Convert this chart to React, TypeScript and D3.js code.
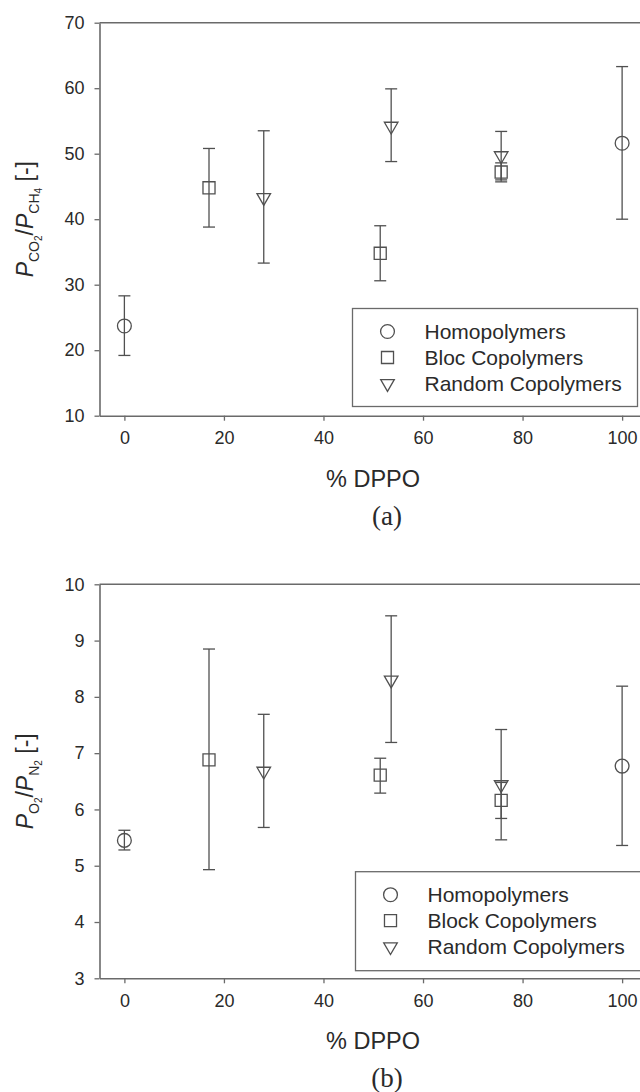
import * as d3 from 'd3';
import { useEffect, useRef } from 'react';

const WIDTH = 640;
const HEIGHT = 1092;
const X_TICKS = [0, 20, 40, 60, 80, 100];

// panel (a): CO2/CH4 selectivity
const A_Y_TICKS = [10, 20, 30, 40, 50, 60, 70];
const A_HOMO_X = [0, 100];
const A_HOMO_Y = [23.7, 51.6];
const A_HOMO_LO = [19.2, 40.0];
const A_HOMO_HI = [28.3, 63.3];
const A_BLOC_X = [17, 51.4, 75.7];
const A_BLOC_Y = [44.8, 34.8, 47.2];
const A_BLOC_LO = [38.8, 30.6, 45.7];
const A_BLOC_HI = [50.8, 39.0, 48.6];
const A_RAND_X = [28, 53.6, 75.7];
const A_RAND_Y = [43.3, 54.2, 49.7];
const A_RAND_LO = [33.3, 48.8, 46.0];
const A_RAND_HI = [53.5, 59.9, 53.4];
const A_LEGEND = ['Homopolymers', 'Bloc Copolymers', 'Random Copolymers'];

// panel (b): O2/N2 selectivity
const B_Y_TICKS = [3, 4, 5, 6, 7, 8, 9, 10];
const B_HOMO_X = [0, 100];
const B_HOMO_Y = [5.45, 6.77];
const B_HOMO_LO = [5.28, 5.36];
const B_HOMO_HI = [5.63, 8.19];
const B_BLOC_X = [17, 51.4, 75.7];
const B_BLOC_Y = [6.88, 6.61, 6.16];
const B_BLOC_LO = [4.93, 6.29, 5.84];
const B_BLOC_HI = [8.85, 6.91, 6.48];
const B_RAND_X = [28, 53.6, 75.7];
const B_RAND_Y = [6.68, 8.3, 6.44];
const B_RAND_LO = [5.68, 7.19, 5.46];
const B_RAND_HI = [7.69, 9.44, 7.42];
const B_LEGEND = ['Homopolymers', 'Block Copolymers', 'Random Copolymers'];

const AXIS_COLOR = '#6a6a6a';
const MARK_COLOR = '#505050';
const TEXT_COLOR = '#2a2a2a';
const SANS = '"Liberation Sans", Arial, Helvetica, sans-serif';
const SERIF = '"Liberation Serif", "Times New Roman", serif';

const SYMBOLS = [
  { type: d3.symbolCircle, size: 150, rotate: 0 },
  { type: d3.symbolSquare, size: 145, rotate: 0 },
  { type: d3.symbolTriangle, size: 80, rotate: 180 },
];

const zip = (xs, ys, lo, hi) => xs.map((x, i) => ({ x, y: ys[i], lo: lo[i], hi: hi[i] }));

function drawPanel(svg, cfg) {
  const x = d3.scaleLinear().domain([-5, 105]).range([99.5, 647]);
  const y = d3.scaleLinear().domain(cfg.yDomain).range(cfg.yRange);
  const [yBottom, yTop] = cfg.yRange;
  const g = svg.append('g');

  // frame: top and right borders
  g.append('path')
    .attr('d', `M${x(-5)},${yTop}H${x(105)}V${yBottom}`)
    .attr('fill', 'none')
    .attr('stroke', AXIS_COLOR)
    .attr('stroke-width', 1.6);

  const yAxis = g.append('g')
    .attr('transform', `translate(${x(-5)},0)`)
    .call(
      d3.axisLeft(y)
        .tickValues(cfg.yTicks)
        .tickFormat(d3.format('d'))
        .tickSize(5)
        .tickSizeOuter(0)
        .tickPadding(10)
    );
  const xAxis = g.append('g')
    .attr('transform', `translate(0,${yBottom})`)
    .call(
      d3.axisBottom(x)
        .tickValues(X_TICKS)
        .tickFormat(d3.format('d'))
        .tickSize(5)
        .tickSizeOuter(0)
        .tickPadding(11)
    );

  [yAxis, xAxis].forEach((axis) => {
    axis.select('.domain').attr('stroke', AXIS_COLOR).attr('stroke-width', 1.6);
    axis.selectAll('line').attr('stroke', AXIS_COLOR).attr('stroke-width', 1.3);
    axis.selectAll('text')
      .style('font-family', SANS)
      .style('font-size', '18px')
      .attr('fill', TEXT_COLOR);
  });

  // error bars and markers
  cfg.series.forEach((points, si) => {
    const sym = SYMBOLS[si];
    const bars = g.append('g')
      .attr('stroke', MARK_COLOR)
      .attr('stroke-width', 1.3)
      .attr('fill', 'none');
    points.forEach((p) => {
      const cx = x(p.x);
      bars.append('line').attr('x1', cx).attr('x2', cx).attr('y1', y(p.lo)).attr('y2', y(p.hi));
      bars.append('line').attr('x1', cx - 6).attr('x2', cx + 6).attr('y1', y(p.lo)).attr('y2', y(p.lo));
      bars.append('line').attr('x1', cx - 6).attr('x2', cx + 6).attr('y1', y(p.hi)).attr('y2', y(p.hi));
    });
    g.selectAll(null)
      .data(points)
      .enter()
      .append('path')
      .attr('d', d3.symbol().type(sym.type).size(sym.size)())
      .attr('transform', (p) => `translate(${x(p.x)},${y(p.y)}) rotate(${sym.rotate})`)
      .attr('fill', 'none')
      .attr('stroke', MARK_COLOR)
      .attr('stroke-width', 1.3);
  });

  // legend
  const lg = g.append('g');
  lg.append('rect')
    .attr('x', cfg.legend.x)
    .attr('y', cfg.legend.y)
    .attr('width', cfg.legend.w)
    .attr('height', cfg.legend.h)
    .attr('fill', 'white')
    .attr('stroke', AXIS_COLOR)
    .attr('stroke-width', 1.3);
  cfg.legend.labels.forEach((label, i) => {
    const sym = SYMBOLS[i];
    const base = cfg.legend.y + 30 + i * 26;
    lg.append('path')
      .attr('d', d3.symbol().type(sym.type).size(sym.size)())
      .attr('transform', `translate(${cfg.legend.x + 35},${base - 7}) rotate(${sym.rotate})`)
      .attr('fill', 'none')
      .attr('stroke', MARK_COLOR)
      .attr('stroke-width', 1.3);
    lg.append('text')
      .attr('x', cfg.legend.x + 72)
      .attr('y', base)
      .style('font-family', SANS)
      .style('font-size', '21px')
      .attr('fill', TEXT_COLOR)
      .text(label);
  });

  // y axis label with nested subscripts
  const yl = g.append('text')
    .attr('transform', `translate(33,${(yBottom + yTop) / 2}) rotate(-90)`)
    .attr('text-anchor', 'middle')
    .style('font-family', SANS)
    .style('font-size', '23px')
    .attr('fill', TEXT_COLOR);
  cfg.yLabel.forEach((part) => {
    yl.append('tspan')
      .attr('dy', part.dy || 0)
      .style('font-size', part.size ? `${part.size}px` : null)
      .style('font-style', part.italic ? 'italic' : null)
      .text(part.t);
  });

  g.append('text')
    .attr('x', 373)
    .attr('y', yBottom + 71)
    .attr('text-anchor', 'middle')
    .style('font-family', SANS)
    .style('font-size', '23.5px')
    .attr('fill', TEXT_COLOR)
    .text('% DPPO');

  g.append('text')
    .attr('x', 387)
    .attr('y', yBottom + 109)
    .attr('text-anchor', 'middle')
    .style('font-family', SERIF)
    .style('font-size', '27px')
    .attr('fill', TEXT_COLOR)
    .text(cfg.caption);
}

function ratioLabel(a, b) {
  return [
    { t: 'P', italic: true },
    { t: a[0], size: 14, dy: 6 },
    { t: a[1], size: 10, dy: 3 },
    { t: '/', dy: -9 },
    { t: 'P', italic: true },
    { t: b[0], size: 14, dy: 6 },
    { t: b[1], size: 10, dy: 3 },
    { t: ' [-]', dy: -9 },
  ];
}

export default function App() {
  const ref = useRef(null);

  useEffect(() => {
    const svg = d3.select(ref.current);
    svg.selectAll('*').remove();

    svg.append('rect').attr('width', WIDTH).attr('height', HEIGHT).attr('fill', 'white');

    drawPanel(svg, {
      yDomain: [10, 70],
      yRange: [415.7, 22.7],
      yTicks: A_Y_TICKS,
      series: [
        zip(A_HOMO_X, A_HOMO_Y, A_HOMO_LO, A_HOMO_HI),
        zip(A_BLOC_X, A_BLOC_Y, A_BLOC_LO, A_BLOC_HI),
        zip(A_RAND_X, A_RAND_Y, A_RAND_LO, A_RAND_HI),
      ],
      legend: { x: 352.5, y: 308.5, w: 285, h: 98, labels: A_LEGEND },
      yLabel: ratioLabel(['CO', '2'], ['CH', '4']),
      caption: '(a)',
    });

    drawPanel(svg, {
      yDomain: [3, 10],
      yRange: [978.3, 584.3],
      yTicks: B_Y_TICKS,
      series: [
        zip(B_HOMO_X, B_HOMO_Y, B_HOMO_LO, B_HOMO_HI),
        zip(B_BLOC_X, B_BLOC_Y, B_BLOC_LO, B_BLOC_HI),
        zip(B_RAND_X, B_RAND_Y, B_RAND_LO, B_RAND_HI),
      ],
      legend: { x: 355.5, y: 871.7, w: 290, h: 99, labels: B_LEGEND },
      yLabel: ratioLabel(['O', '2'], ['N', '2']),
      caption: '(b)',
    });

    return () => {
      svg.selectAll('*').remove();
    };
  }, []);

  return (
    <svg
      ref={ref}
      width={WIDTH}
      height={HEIGHT}
      style={{ position: 'absolute', left: 0, top: 0, display: 'block' }}
      role="img"
      aria-label="Gas selectivity versus DPPO content"
    />
  );
}
